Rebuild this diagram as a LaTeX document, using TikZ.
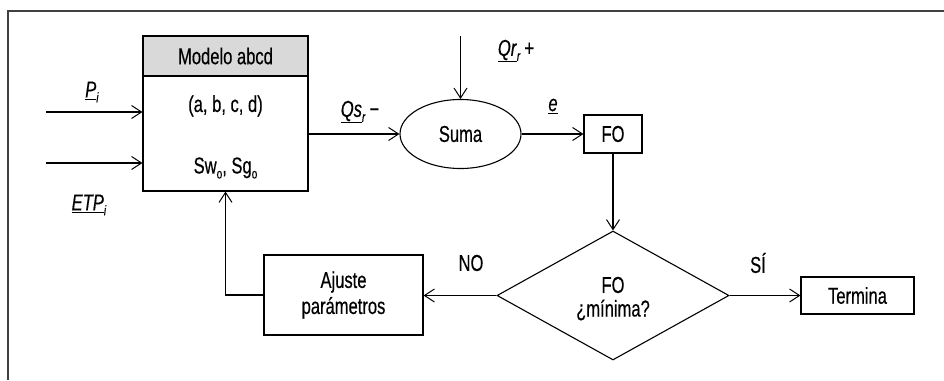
\documentclass[tikz,border=0pt]{standalone}
\usepackage{fontspec}
\setmainfont[FakeStretch=0.72,FakeBold=0.4]{Liberation Sans}
\usetikzlibrary{arrows.meta,shapes.geometric}
\definecolor{headgray}{RGB}{217,217,217}
\definecolor{framegray}{RGB}{64,64,64}
\newcommand{\lowsub}[1]{\raisebox{-5pt}{\fontsize{14}{16}\selectfont #1}}
\begin{document}
\begin{tikzpicture}[x=1pt,y=-1pt,
  font=\fontsize{23}{27}\selectfont,
  line width=1.1pt,
  box/.style={draw, rectangle, inner sep=0pt, align=center},
  txt/.style={inner sep=0pt, align=center},
  arr/.style={-{Straight Barb[length=10pt,width=13pt,line width=1pt]}},
  frame/.style={draw=framegray, line width=1.5pt}]
\useasboundingbox (0,0) rectangle (944,380);

% panel frame (top and left edges)
\draw[frame] (944,11) -- (8,11) -- (8,380);

% model block with shaded header
\node[box, minimum width=165pt, minimum height=155pt] (model) at (225.5,113.5) {};
\node[box, fill=headgray, minimum width=165pt, minimum height=40pt] (modelhead) at (225.5,56) {Modelo abcd};
\node[txt] (mparams) at (225.5,106) {(a, b, c, d)};
\node[txt] (mstates) at (225.5,168) {Sw\lowsub{o}, Sg\lowsub{o}};

% other blocks
\node[draw, ellipse, inner sep=0pt, minimum width=121pt, minimum height=69pt] (suma) at (460.5,134) {Suma};
\node[box, minimum width=58pt, minimum height=38pt] (fo) at (613,134) {FO};
\node[draw, diamond, inner sep=0pt, minimum width=232pt, minimum height=129pt, align=center] (dec) at (613,295.5) {};
\node[txt] (decfo) at (613,285) {FO};
\node[txt] (decmin) at (613,310) {¿mínima?};
\node[box, minimum width=113pt, minimum height=37pt] (term) at (857.5,295.5) {Termina};
\node[box, minimum width=159pt, minimum height=80pt] (ajuste) at (343.5,295) {Ajuste\\[-1pt]parámetros};

% free ends of the inputs
\coordinate (pin) at (46,112);
\coordinate (etpin) at (46,163);
\coordinate (qrin) at (460.5,36);

% connectors
\draw[arr] (pin) -- (pin -| model.west);
\draw[arr] (etpin) -- (etpin -| model.west);
\draw[arr] (suma.west -| model.east) -- (suma.west);
\draw[arr] (qrin) -- (suma.north);
\draw[arr] (suma.east) -- (fo.west);
\draw[arr] (fo.south) -- (dec.north);
\draw[arr] (dec.east) -- (term.west);
\draw[arr] (dec.west) -- (dec.west -| ajuste.east);
\draw[arr] (ajuste.west) -| (model.south);

% labels
\node[txt] (lp) at (92,92) {\underline{\textit{P}}\lowsub{\textit{i}}};
\node[txt] (letp) at (89,205) {\underline{\textit{ETP}}\lowsub{\textit{i}}};
\node[txt] (lqs) at (360,112) {\underline{\textit{Qs}}\lowsub{\textit{r}}\,−};
\node[txt] (lqr) at (516,51) {\underline{\textit{Qr}}\lowsub{\textit{r}}\,+};
\node[txt] (le) at (553,106) {\underline{\textit{e}}};
\node[txt] (lno) at (471,263) {NO};
\node[txt] (lsi) at (758,263) {SÍ};
\end{tikzpicture}
\end{document}
